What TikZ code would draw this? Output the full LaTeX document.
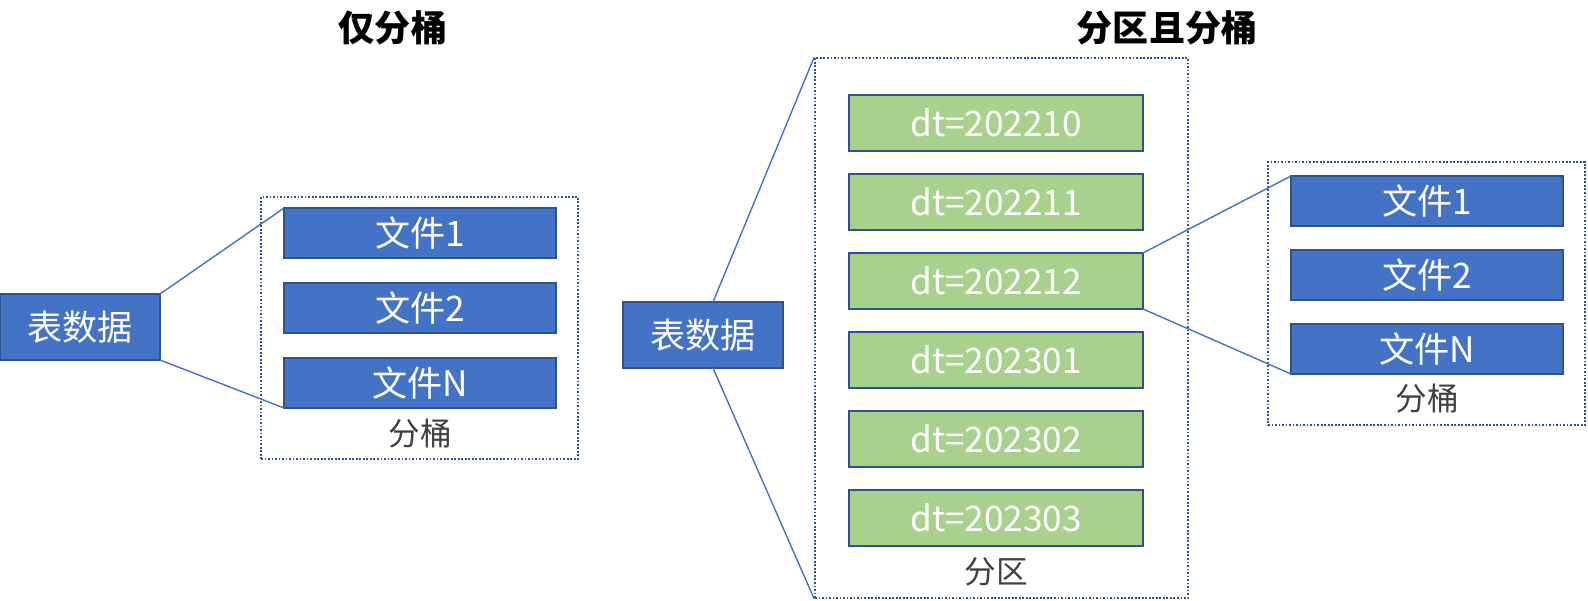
\documentclass[tikz,border=0pt]{standalone}
\usepackage{fontspec}
\setmainfont{Noto Sans CJK SC}
\usepackage{xcolor}
\usepackage{tikz}
\usetikzlibrary{positioning}

\definecolor{fileblue}{HTML}{4472C4}
\definecolor{edgeblue}{HTML}{2F528F}
\definecolor{partgreen}{HTML}{A9D18E}

\tikzset{
  file/.style={draw=edgeblue, fill=fileblue, line width=1pt, text=white,
    font=\fontsize{20}{22}\selectfont, minimum width=5.44cm, minimum height=1cm,
    inner sep=0pt, outer sep=0pt},
  partition/.style={file, fill=partgreen, minimum width=5.88cm, minimum height=1.12cm},
  tbl/.style={file, minimum width=3.2cm, minimum height=1.32cm},
  group/.style={draw=edgeblue, line width=1pt, dash pattern=on 1pt off 1pt, inner sep=0pt},
  caption/.style={font=\fontsize{18}{20}\selectfont, text=black!75, inner sep=2pt},
  heading/.style={font=\fontsize{20.5}{22}\selectfont\bfseries},
  link/.style={draw=fileblue, line width=0.8pt}
}

\begin{document}
\begin{tikzpicture}[x=0.02cm, y=-0.02cm]
\useasboundingbox (0,0) rectangle (1588,600);

\node[heading] (h1) at (393,28) {仅分桶};
\node[heading] (h2) at (1167,28) {分区且分桶};

% only buckets
\node[tbl] (d1) at (80,327) {表数据};
\node[group, minimum width=6.34cm, minimum height=5.24cm] (g1) at (419.5,328) {};
\node[file] (g1f1) at (420,233) {文件1};
\node[file] (g1f2) [below=0.5cm of g1f1] {文件2};
\node[file] (g1fN) [below=0.5cm of g1f2] {文件N};
\node[caption] (g1l) [below=0.15cm of g1fN] {分桶};

% partitions and buckets
\node[tbl] (d2) at (703,335) {表数据};
\node[group, minimum width=7.46cm, minimum height=10.8cm] (g2) at (1001.5,328) {};
\node[partition] (p1) at (996,123) {dt=202210};
\node[partition] (p2) [below=0.46cm of p1] {dt=202211};
\node[partition] (p3) [below=0.46cm of p2] {dt=202212};
\node[partition] (p4) [below=0.46cm of p3] {dt=202301};
\node[partition] (p5) [below=0.46cm of p4] {dt=202302};
\node[partition] (p6) [below=0.46cm of p5] {dt=202303};
\node[caption] (g2l) [below=0.15cm of p6] {分区};

\node[group, minimum width=6.34cm, minimum height=5.26cm] (g3) at (1426.5,293.5) {};
\node[file] (g3f1) at (1427,201) {文件1};
\node[file] (g3f2) [below=0.48cm of g3f1] {文件2};
\node[file] (g3fN) [below=0.48cm of g3f2] {文件N};
\node[caption] (g3l) [below=0.12cm of g3fN] {分桶};

\path[link]
  (d1.north east) edge (g1f1.north west)
  (d1.south east) edge (g1fN.south west)
  ([xshift=0.2cm]d2.north) edge (g2.north west)
  ([xshift=0.2cm]d2.south) edge (g2.south west)
  (p3.north east) edge (g3f1.north west)
  (p3.south east) edge (g3fN.south west);

\end{tikzpicture}
\end{document}
